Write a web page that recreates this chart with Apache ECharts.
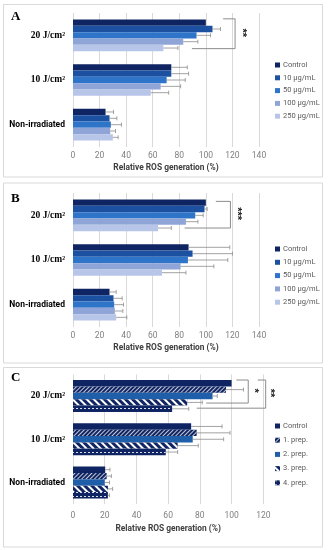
<!DOCTYPE html>
<html><head><meta charset="utf-8">
<script src="https://cdn.jsdelivr.net/npm/echarts@6/dist/echarts.min.js"></script>
<style>html,body{margin:0;padding:0;background:#fff}#c{width:328px;height:550px}</style>
</head><body><div id="c"></div>
<script>
// ---------- DATA ----------
const categories = ['20 J/cm²', '10 J/cm²', 'Non-irradiated'];
const xTicksAB = [0, 20, 40, 60, 80, 100, 120, 140];
const xTicksC = [0, 20, 40, 60, 80, 100, 120];
const namesAB = ['Control', '10 µg/mL', '50 µg/mL', '100 µg/mL', '250 µg/mL'];
const namesC = ['Control', '1. prep.', '2. prep.', '3. prep.', '4. prep.'];
const axisTitle = 'Relative ROS generation (%)';
const panelLetters = ['A', 'B', 'C'];

// Panel A (values per category: 20 J, 10 J, non-irradiated) and SD
const aControl = [100, 74, 24.5];     const aControlSd = [0, 12, 6];
const a10 = [105, 74, 27.5];          const a10Sd = [6, 13, 5.5];
const a50 = [93, 70.5, 28.5];         const a50Sd = [10.5, 14, 8];
const a100 = [83, 66, 28];            const a100Sd = [11, 15, 4];
const a250 = [68, 58.5, 30];          const a250Sd = [11, 13.5, 4];

// Panel B
const bControl = [100, 87, 27.5];     const bControlSd = [0, 31, 5];
const b10 = [99, 90, 30.5];           const b10Sd = [2, 30, 6.5];
const b50 = [92, 86.5, 31];           const b50Sd = [6, 30, 7];
const b100 = [85, 81, 31.5];          const b100Sd = [9, 25, 6];
const b250 = [64, 67, 32.5];          const b250Sd = [10, 18, 8];

// Panel C
const cControl = [100, 74.5, 20.3];   const cControlSd = [0, 19.5, 3];
const cPrep1 = [96.5, 78, 21.2];      const cPrep1Sd = [11, 21, 3];
const cPrep2 = [88, 75.5, 20];        const cPrep2Sd = [3, 19.5, 3];
const cPrep3 = [72, 66, 22];          const cPrep3Sd = [9.5, 13, 3];
const cPrep4 = [62.5, 58.5, 22];      const cPrep4Sd = [10.5, 7.5, 1];

// significance brackets: [rightX, category, topBarSlot, bottomBarSlot, topLeftX, bottomLeftX, labelX]
const bracketsA = [[122, 0, -0.6, 4.1, 113, 89.5, 127]];
const bracketLabelsA = ['**'];
const bracketsB = [[118.5, 0, -0.2, 4, 107.5, 84, 123.5]];
const bracketLabelsB = ['***'];
const bracketsC = [[110.5, 0, -0.5, 3.1, 103, 84, 114], [121.5, 0, -0.5, 3.9, 116.5, 78, 124.5]];
const bracketLabelsC = ['*', '**'];

// ---------- STYLE ----------
const SANS = "Roboto,'Liberation Sans',sans-serif";
const navy = '#0f2462';
const colorsAB = [navy, '#1c50a0', '#2e74c8', '#8fa5d8', '#b7c5e8'];
const colorsC = [navy, navy, '#1f5ea8', navy, navy];
const decalsC = [
  null,
  {symbol: 'rect', symbolSize: 1, color: 'rgba(255,255,255,0.75)', dashArrayX: [1, 0], dashArrayY: [1, 1.8], rotation: -Math.PI / 4},
  null,
  {symbol: 'rect', symbolSize: 1, color: '#ffffff', dashArrayX: [1, 0], dashArrayY: [2, 2.2], rotation: Math.PI / 4},
  {symbol: 'rect', symbolSize: 1, color: 'rgba(255,255,255,0.85)', dashArrayX: [1.5, 1.5], dashArrayY: [1, 2.5], rotation: 0}
];

const panels = [
  {vals: [aControl, a10, a50, a100, a250], sds: [aControlSd, a10Sd, a50Sd, a100Sd, a250Sd], names: namesAB,
   colors: colorsAB, decals: [null, null, null, null, null], ticks: xTicksAB, gap: 0.29,
   grid: {left: 73, right: 69, top: 13, height: 134}, labelMargin: 4, nameGap: 17,
   legendTop: 61, legendGap: 4.8, brackets: bracketsA, blabels: bracketLabelsA},
  {vals: [bControl, b10, b50, b100, b250], sds: [bControlSd, b10Sd, b50Sd, b100Sd, b250Sd], names: namesAB,
   colors: colorsAB, decals: [null, null, null, null, null], ticks: xTicksAB, gap: 0.29,
   grid: {left: 73, right: 69, top: 193, height: 134}, labelMargin: 4, nameGap: 17,
   legendTop: 245, legendGap: 5.3, brackets: bracketsB, blabels: bracketLabelsB},
  {vals: [cControl, cPrep1, cPrep2, cPrep3, cPrep4], sds: [cControlSd, cPrep1Sd, cPrep2Sd, cPrep3Sd, cPrep4Sd], names: namesC,
   colors: colorsC, decals: decalsC, ticks: xTicksC, gap: 0.26,
   grid: {left: 73, right: 64.7, top: 374.4, height: 129.7}, labelMargin: 7, nameGap: 21,
   legendTop: 422, legendGap: 6.2, brackets: bracketsC, blabels: bracketLabelsC}
];

const grids = [], xAxes = [], yAxes = [], series = [], legends = [];
panels.forEach(function (p, pi) {
  grids.push(Object.assign({outerBoundsMode: 'none', containLabel: false}, p.grid));
  xAxes.push({
    type: 'value', gridIndex: pi, min: p.ticks[0], max: p.ticks[p.ticks.length - 1], interval: p.ticks[1] - p.ticks[0],
    axisLine: {show: false}, axisTick: {show: false},
    splitLine: {show: true, lineStyle: {color: '#d9d9d9', width: 1}},
    axisLabel: {color: '#7f7f7f', fontSize: 8.5, fontFamily: SANS, margin: p.labelMargin},
    name: axisTitle, nameLocation: 'middle', nameGap: p.nameGap,
    nameTextStyle: {color: '#404040', fontSize: 8.4, fontWeight: 'bold', fontFamily: SANS}
  });
  yAxes.push({
    type: 'category', gridIndex: pi, data: categories, inverse: true,
    axisLine: {show: false}, axisTick: {show: false},
    axisLabel: {
      margin: 8,
      formatter: function (v) { return v.indexOf('J/') >= 0 ? '{s|' + v + '}' : '{n|' + v + '}'; },
      rich: {
        s: {fontFamily: "'Liberation Serif','Times New Roman',serif", fontWeight: 'bold', fontSize: 9.5, color: '#000'},
        n: {fontFamily: SANS, fontWeight: 'bold', fontSize: 8.5, color: '#000'}
      }
    }
  });
  const n = p.vals.length;
  p.vals.forEach(function (v, si) {
    const st = {color: p.colors[si]};
    if (p.decals[si]) st.decal = p.decals[si];
    series.push({
      type: 'bar', name: p.names[si], xAxisIndex: pi, yAxisIndex: pi, data: v,
      barGap: '0%', barCategoryGap: (p.gap * 100) + '%', itemStyle: st, silent: true, animation: false
    });
  });
  // error bars
  const errData = [];
  p.vals.forEach(function (v, si) {
    v.forEach(function (val, ci) {
      errData.push([val + p.sds[si][ci], ci, val, si]);
    });
  });
  const gap = p.gap;
  series.push({
    type: 'custom', xAxisIndex: pi, yAxisIndex: pi, data: errData, silent: true, animation: false, clip: false, z: 5,
    renderItem: function (params, api) {
      const end = api.value(0), cat = api.value(1), base = api.value(2), slot = api.value(3);
      if (end <= base) return null;
      const p0 = api.coord([base, cat]);
      const p1 = api.coord([end, cat]);
      const band = api.size([0, 1])[1];
      const gw = band * (1 - gap), bw = gw / n;
      const y = p0[1] - gw / 2 + (slot + 0.5) * bw;
      const sty = {stroke: '#8c8c8c', lineWidth: 0.8};
      return {type: 'group', children: [
        {type: 'line', shape: {x1: p0[0], y1: y, x2: p1[0], y2: y}, style: sty},
        {type: 'line', shape: {x1: p1[0], y1: y - 2, x2: p1[0], y2: y + 2}, style: sty}
      ]};
    }
  });
  // brackets
  const labels = p.blabels;
  series.push({
    type: 'custom', xAxisIndex: pi, yAxisIndex: pi, data: p.brackets, silent: true, animation: false, clip: false, z: 6,
    renderItem: function (params, api) {
      const rx = api.value(0), cat = api.value(1), ts = api.value(2), bs = api.value(3);
      const tlx = api.value(4), blx = api.value(5), lx = api.value(6);
      const c = api.coord([rx, cat]);
      const band = api.size([0, 1])[1];
      const gw = band * (1 - gap), bw = gw / n;
      const yT = c[1] - gw / 2 + (ts + 0.5) * bw;
      const yB = c[1] - gw / 2 + (bs + 0.5) * bw;
      const xTL = api.coord([tlx, cat])[0], xBL = api.coord([blx, cat])[0], xL = api.coord([lx, cat])[0];
      return {type: 'group', children: [
        {type: 'polyline', shape: {points: [[xTL, yT], [c[0], yT], [c[0], yB], [xBL, yB]]},
         style: {stroke: '#8c8c8c', lineWidth: 1, fill: null}},
        {type: 'text', x: xL, y: (yT + yB) / 2 - 1, rotation: -Math.PI / 2,
         style: {text: labels[params.dataIndex], align: 'center', verticalAlign: 'middle',
                 font: "bold 11px 'Liberation Sans',sans-serif", fill: '#222'}}
      ]};
    }
  });
  legends.push({
    data: p.names.slice(), orient: 'vertical', left: 275, top: p.legendTop, padding: 0,
    itemWidth: 5, itemHeight: 5, itemGap: p.legendGap, icon: 'rect', selectedMode: false,
    textStyle: {fontSize: 7.5, color: '#595959', fontFamily: SANS, lineHeight: 8, padding: [0, 0, 0, -2]}
  });
});

const chart = echarts.init(document.getElementById('c'), null, {renderer: 'canvas'});
chart.setOption({
  animation: false,
  backgroundColor: '#ffffff',
  grid: grids, xAxis: xAxes, yAxis: yAxes, series: series, legend: legends,
  graphic: [
    {type: 'rect', shape: {x: 3.5, y: 4.5, width: 319, height: 172.5}, style: {fill: null, stroke: '#d9d9d9', lineWidth: 1}, silent: true, z: -1},
    {type: 'rect', shape: {x: 3.5, y: 183, width: 319, height: 180}, style: {fill: null, stroke: '#d9d9d9', lineWidth: 1}, silent: true, z: -1},
    {type: 'rect', shape: {x: 3.5, y: 367.5, width: 319, height: 179.5}, style: {fill: null, stroke: '#d9d9d9', lineWidth: 1}, silent: true, z: -1},
    {type: 'text', left: 11, top: 10, style: {text: panelLetters[0], font: "bold 13px 'Liberation Serif',serif", fill: '#000'}},
    {type: 'text', left: 11, top: 192, style: {text: panelLetters[1], font: "bold 13px 'Liberation Serif',serif", fill: '#000'}},
    {type: 'text', left: 11, top: 371, style: {text: panelLetters[2], font: "bold 13px 'Liberation Serif',serif", fill: '#000'}}
  ]
});
</script></body></html>
